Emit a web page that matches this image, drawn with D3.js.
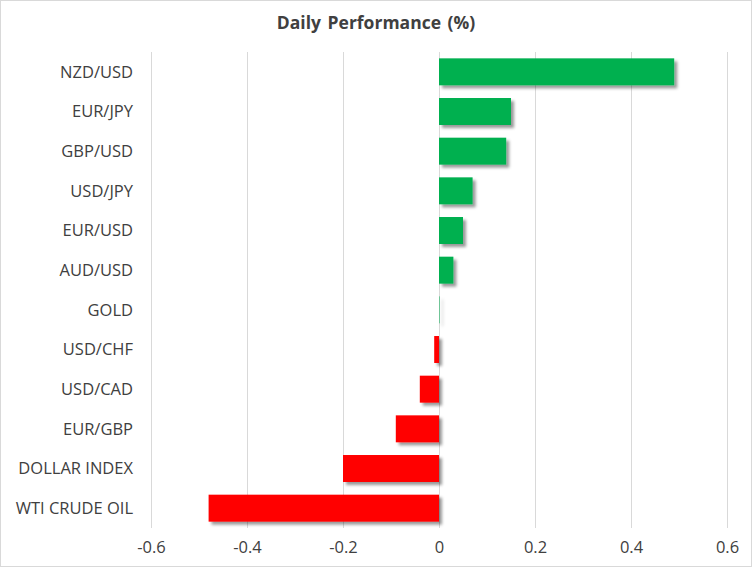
<!DOCTYPE html>
<html>
<head>
<meta charset="utf-8">
<script src="https://cdn.jsdelivr.net/npm/d3@7"></script>
<style>
  body { margin: 0; background: #fff; }
  text { font-family: "Open Sans", sans-serif; fill: #404040; }
</style>
</head>
<body>
<div id="chart"></div>
<script>
// data
var categories = ["NZD/USD", "EUR/JPY", "GBP/USD", "USD/JPY", "EUR/USD", "AUD/USD",
                  "GOLD", "USD/CHF", "USD/CAD", "EUR/GBP", "DOLLAR INDEX", "WTI CRUDE OIL"];
var values = [0.49, 0.15, 0.14, 0.07, 0.05, 0.03, 0.001, -0.01, -0.04, -0.09, -0.2, -0.48];
var xTicks = [-0.6, -0.4, -0.2, 0, 0.2, 0.4, 0.6];

var svgWidth = 753;
var svgHeight = 568;
var margin = { top: 52, right: 26, bottom: 40, left: 151 };
var width = 727 - margin.left;
var height = 528 - margin.top;

var svg = d3.select("#chart").append("svg")
    .attr("width", svgWidth)
    .attr("height", svgHeight);

// outer border
svg.append("rect")
    .attr("x", 0.5).attr("y", 0.5)
    .attr("width", 751).attr("height", 566)
    .attr("fill", "#fff")
    .attr("stroke", "#d9d9d9");

// soft drop shadow for the bars
var shadow = svg.append("defs").append("filter")
    .attr("id", "shadow")
    .attr("filterUnits", "userSpaceOnUse")
    .attr("x", -50).attr("y", -50)
    .attr("width", 900).attr("height", 700);
shadow.append("feDropShadow")
    .attr("dx", 3).attr("dy", 3)
    .attr("stdDeviation", 1.6)
    .attr("flood-color", "#000")
    .attr("flood-opacity", 0.4);

svg.append("text")
    .attr("x", 376)
    .attr("y", 29)
    .attr("text-anchor", "middle")
    .attr("font-size", "17.5px")
    .attr("font-weight", "bold")
    .attr("word-spacing", "2px")
    .text("Daily Performance (%)");

var chartGroup = svg.append("g")
    .attr("transform", `translate(${margin.left}, ${margin.top})`);

var x = d3.scaleLinear().domain([-0.6, 0.6]).range([0, width]);
var y = d3.scaleBand().domain(categories).range([0, height]).paddingInner(0.32).paddingOuter(0.16);

// vertical grid lines
chartGroup.selectAll(".grid")
    .data(xTicks)
    .enter()
    .append("line")
    .attr("x1", d => Math.round(x(d)) + 0.5)
    .attr("x2", d => Math.round(x(d)) + 0.5)
    .attr("y1", 0)
    .attr("y2", height)
    .attr("stroke", "#d9d9d9");

// bars
chartGroup.selectAll(".bar")
    .data(values)
    .enter()
    .append("rect")
    .attr("x", d => x(Math.min(0, d)))
    .attr("y", (d, i) => y(categories[i]))
    .attr("width", d => Math.abs(x(d) - x(0)))
    .attr("height", y.bandwidth())
    .attr("fill", d => d >= 0 ? "#00b050" : "#ff0000")
    .attr("filter", "url(#shadow)");

// category labels
chartGroup.selectAll(".cat")
    .data(categories)
    .enter()
    .append("text")
    .attr("x", -18)
    .attr("y", d => y(d) + y.bandwidth() / 2)
    .attr("dy", "0.35em")
    .attr("text-anchor", "end")
    .attr("font-size", "16.5px")
    .text(d => d);

// x axis labels
var bottomAxis = d3.axisBottom(x).tickValues(xTicks).tickSize(0).tickPadding(13)
    .tickFormat(d => d3.format("")(+d.toFixed(1)).replace("\u2212", "-"));
var xAxis = chartGroup.append("g")
    .attr("transform", `translate(0, ${height})`)
    .call(bottomAxis);
xAxis.select(".domain").remove();
xAxis.selectAll("text")
    .attr("font-size", "16.5px")
    .attr("font-family", "Open Sans, sans-serif")
    .attr("fill", "#404040");
</script>
</body>
</html>
